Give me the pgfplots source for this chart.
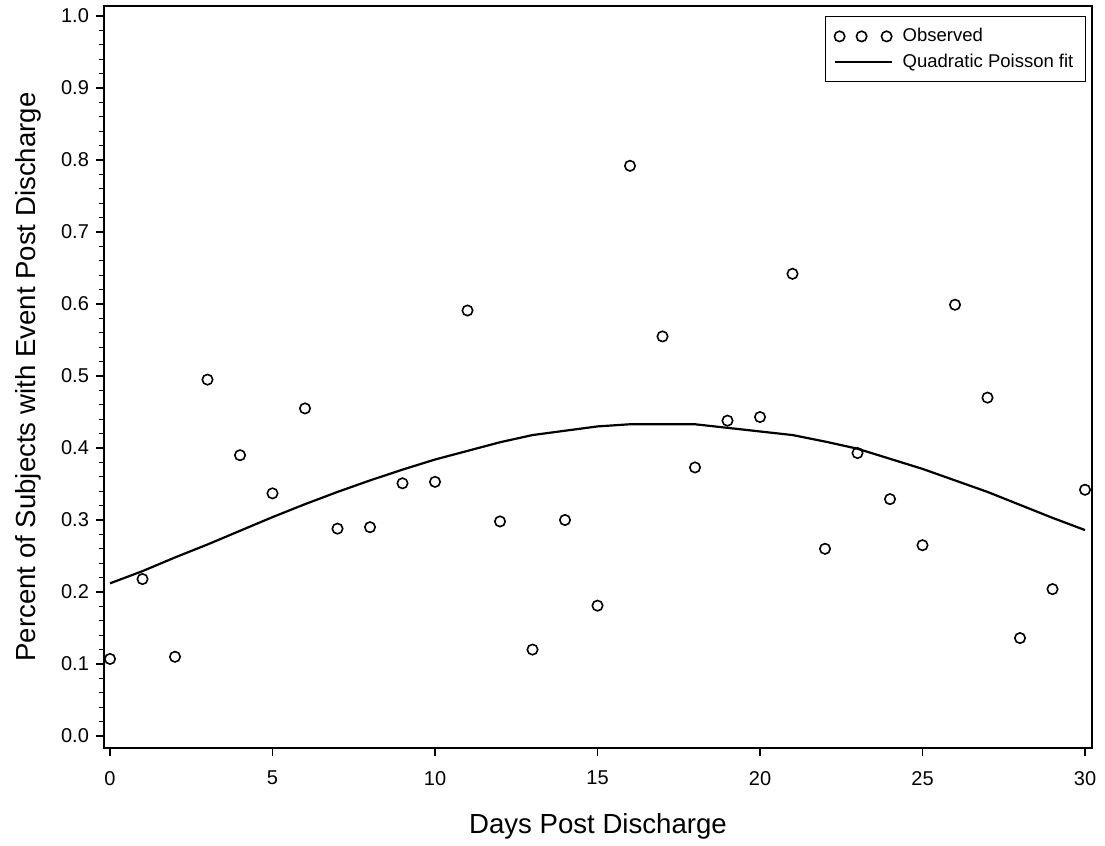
\documentclass[border=0pt]{standalone}
\usepackage{fontspec}
\setmainfont{Liberation Sans}
\usepackage{pgfplots}
\pgfplotsset{compat=1.18}

\pgfplotsset{
    obs legend/.style={
            legend image code/.code={
                    \draw[##1] plot coordinates {(2.5pt,0pt) (13.5pt,0pt) (26pt,0pt)};
                }
        },
    fit legend/.style={
            legend image code/.code={
                    \draw[##1] (0pt,0pt) -- (28.5pt,0pt);
                }
        }
}

\begin{document}
\begin{tikzpicture}
    % fixed page frame, axis box sits at the origin
    \useasboundingbox (-52pt,-49pt) rectangle (500.5pt,374pt);
    \begin{axis}[
            name=ax,
            at={(0,0)}, anchor=south west,
            width=494pt, height=371pt, scale only axis,
            xmin=-0.185, xmax=30.215,
            ymin=-0.0167, ymax=1.014,
            xtick={0,5,...,30},
            ytick={0,0.1,...,1.0},
            minor y tick num=4,
            tick align=outside,
            xtick pos=bottom, ytick pos=left,
            major tick length=4pt, minor tick length=2.5pt,
            every tick/.style={black, line width=0.6pt},
            axis line style={line width=0.8pt},
            /pgf/number format/assume math mode=true,
            yticklabel style={/pgf/number format/.cd, fixed, fixed zerofill, precision=1},
            xticklabel style={yshift=-4pt},
            ticklabel style={font=\fontsize{10}{12}\selectfont},
            xlabel={Days Post Discharge},
            ylabel={Percent of Subjects with Event Post Discharge},
            label style={font=\fontsize{13.8}{16}\selectfont},
            x label style={at={(axis description cs:0.5,0)}, anchor=base, yshift=-43pt},
            y label style={at={(axis description cs:-0.077,0.5)}, anchor=center},
            legend style={
                    at={(axis description cs:1,1)}, anchor=north east,
                    xshift=-3pt, yshift=-5pt,
                    draw=black, line width=0.6pt,
                    font=\fontsize{9.25}{11}\selectfont,
                    legend cell align=left,
                    inner xsep=4pt, inner ysep=3.8pt,
                    row sep=0.5pt,
                    /tikz/every odd column/.style={column sep=3pt}
                }
        ]

        % observed percentages
        \addplot[
            only marks,
            mark=o,
            mark size=2.6pt,
            mark options={line width=0.8pt, black},
            obs legend
        ] coordinates {
                (0, 0.107) (1, 0.218) (2, 0.110) (3, 0.495) (4, 0.390)
                (5, 0.337) (6, 0.455) (7, 0.288) (8, 0.290) (9, 0.351)
                (10, 0.353) (11, 0.591) (12, 0.298) (13, 0.120) (14, 0.300)
                (15, 0.181) (16, 0.792) (17, 0.555) (18, 0.373) (19, 0.438)
                (20, 0.443) (21, 0.642) (22, 0.260) (23, 0.393) (24, 0.329)
                (25, 0.265) (26, 0.599) (27, 0.470) (28, 0.136) (29, 0.204)
                (30, 0.342)
            };
        \addlegendentry{Observed}

        % quadratic Poisson fit
        \addplot[
            black,
            line width=1.1pt,
            fit legend
        ] coordinates {
                (0, 0.212) (1, 0.229) (2, 0.248) (3, 0.266) (4, 0.285)
                (5, 0.304) (6, 0.322) (7, 0.339) (8, 0.355) (9, 0.370)
                (10, 0.384) (11, 0.396) (12, 0.408) (13, 0.418) (14, 0.424)
                (15, 0.430) (16, 0.433) (17, 0.433) (18, 0.433) (19, 0.428)
                (20, 0.423) (21, 0.418) (22, 0.409) (23, 0.399) (24, 0.385)
                (25, 0.371) (26, 0.355) (27, 0.339) (28, 0.321) (29, 0.303)
                (30, 0.286)
            };
        \addlegendentry{Quadratic Poisson fit}

    \end{axis}
\end{tikzpicture}
\end{document}
